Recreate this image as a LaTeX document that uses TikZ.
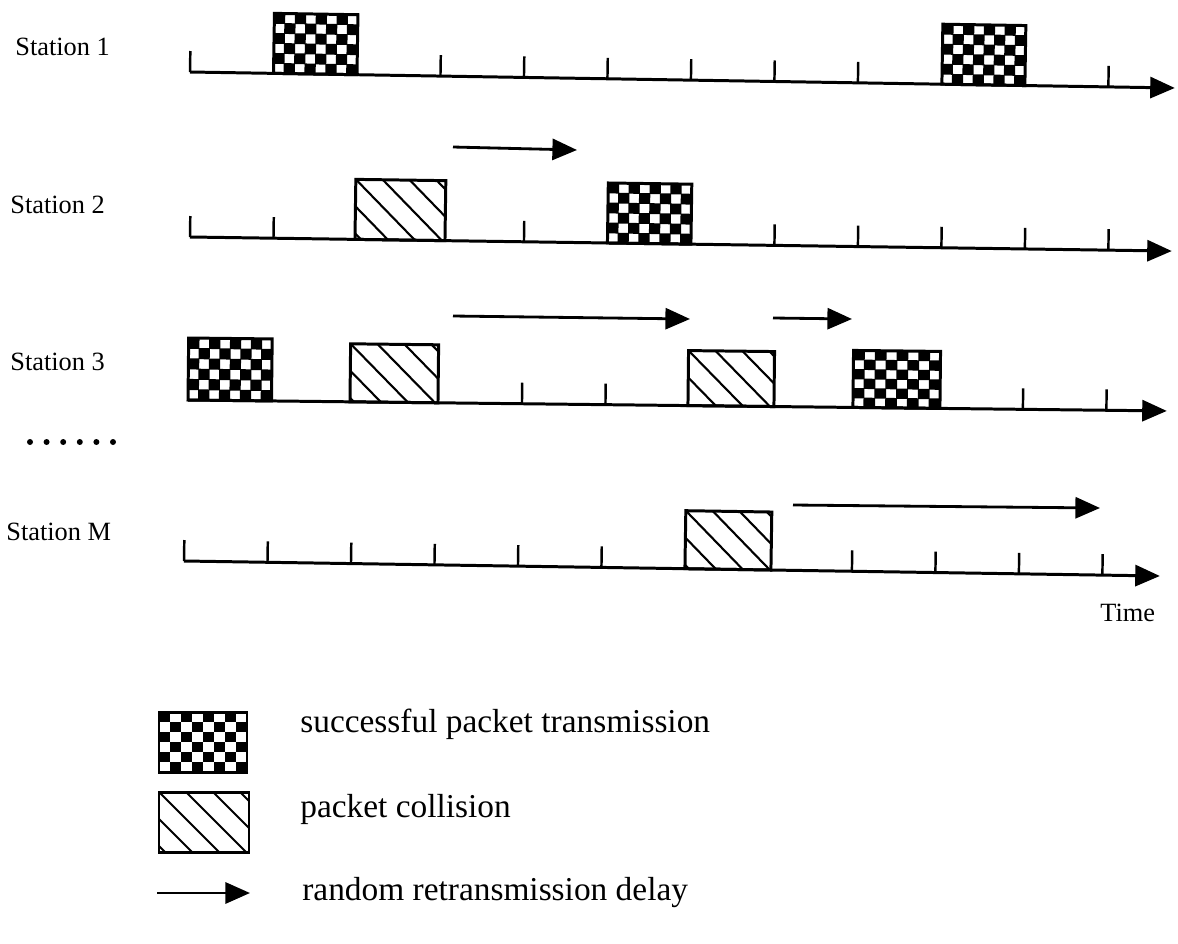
\documentclass[tikz,border=0pt]{standalone}
\usepackage{fontspec}
\setmainfont{Liberation Serif}
\usetikzlibrary{arrows.meta}
\tikzset{
  axisline/.style={line width=1.7pt, -{Triangle[length=14pt,width=12pt]}},
  tickmark/.style={line width=1.4pt},
  boxline/.style={line width=1.7pt},
  hatchline/.style={line width=1.2pt},
  delay/.style={line width=1.6pt, -{Triangle[length=14pt,width=12pt]}},
  lbl/.style={anchor=west, inner sep=0pt, font=\fontsize{15pt}{18pt}\selectfont},
  legtext/.style={anchor=west, inner sep=0pt, font=\fontsize{19pt}{23pt}\selectfont},
}
\newcommand{\ckbox}[3]{%
  \begin{scope}
    \clip (#1,-#3) rectangle (#2,0);
    \pgfmathsetmacro\cw{(#2-#1)/8}
    \pgfmathsetmacro\chh{#3/6}
    \foreach \i in {0,...,7}{\foreach \j in {0,...,5}{
      \pgfmathtruncatemacro\odd{mod(\i+\j,2)}
      \ifnum\odd=1 \fill ({#1+\i*\cw-0.4},{-\j*\chh+0.4}) rectangle ++({\cw+0.8},{-\chh-0.8}); \fi
    }}
  \end{scope}
  \draw[boxline] (#1,-#3) rectangle (#2,0);
}
\newcommand{\hatchbox}[3]{%
  \begin{scope}
    \clip (#1,-#3) rectangle (#2,0);
    \foreach \k in {-3,...,4} \draw[hatchline] ({#1+\k*27},-#3) -- ++(#3+4,#3+4);
  \end{scope}
  \draw[boxline] (#1,-#3) rectangle (#2,0);
}
\begin{document}
\begin{tikzpicture}[x=0.02cm,y=-0.02cm]
\useasboundingbox (0,0) rectangle (1178,944);

% labels
\node[lbl] (l1) at (15,47) {Station 1};
\node[lbl] (l2) at (10,205) {Station 2};
\node[lbl] (l3) at (10,362) {Station 3};
\node[lbl] (lm) at (6,532) {Station M};
\node[lbl] (time) at (1100,613) {Time};

% Station 1
\begin{scope}[shift={(190,72)}, rotate=-0.93]
  \coordinate (s1a) at (0,0); \coordinate (s1b) at (985,0);
  \draw[axisline] (s1a) -- (s1b);
  \foreach \n in {0,3,4,5,6,7,8,11} \draw[tickmark] (\n*83.5,0) -- ++(0,-21);
  \ckbox{83.5}{167}{60}
  \ckbox{752}{835}{60}
\end{scope}

% Station 2
\begin{scope}[shift={(190,237)}, rotate=-0.82]
  \coordinate (s2a) at (0,0); \coordinate (s2b) at (982,0);
  \draw[axisline] (s2a) -- (s2b);
  \foreach \n in {0,1,4,7,8,9,10,11} \draw[tickmark] (\n*83.5,0) -- ++(0,-21);
  \hatchbox{165}{255}{60}
  \ckbox{417.5}{501}{60}
\end{scope}

% Station 3
\begin{scope}[shift={(188,400)}, rotate=-0.64]
  \coordinate (s3a) at (0,0); \coordinate (s3b) at (979,0);
  \draw[axisline] (s3a) -- (s3b);
  \foreach \n in {4,5,10,11} \draw[tickmark] (\n*83.5,0) -- ++(0,-21);
  \ckbox{0}{83.5}{62}
  \hatchbox{162}{250}{58}
  \hatchbox{500}{586}{55}
  \ckbox{665}{752}{57}
\end{scope}

% Station M
\begin{scope}[shift={(184,561)}, rotate=-0.88]
  \coordinate (sma) at (0,0); \coordinate (smb) at (976,0);
  \draw[axisline] (sma) -- (smb);
  \foreach \n in {0,1,2,3,4,5,8,9,10,11} \draw[tickmark] (\n*83.5,0) -- ++(0,-21);
  \hatchbox{501}{587}{58}
\end{scope}

% retransmission delays
\coordinate (d1a) at (453,147); \coordinate (d1b) at (577,150);
\draw[delay] (d1a) -- (d1b);
\coordinate (d2a) at (453,316); \coordinate (d2b) at (690,319);
\draw[delay] (d2a) -- (d2b);
\coordinate (d3a) at (773,318); \coordinate (d3b) at (852,319);
\draw[delay] (d3a) -- (d3b);
\coordinate (d4a) at (793,505); \coordinate (d4b) at (1100,508);
\draw[delay] (d4a) -- (d4b);

% dots
\foreach \k in {0,...,5} \fill (30+\k*16.6,442) circle (3);

% legend
\begin{scope}[shift={(159,772)}]
  \ckbox{0}{88}{60}
\end{scope}
\node[legtext] (t1) at (300,724) {successful packet transmission};
\begin{scope}[shift={(159,852)}]
  \hatchbox{0}{90}{60}
\end{scope}
\node[legtext] (t2) at (300,809) {packet collision};
\coordinate (la) at (157,893); \coordinate (lb) at (250,893);
\draw[delay] (la) -- (lb);
\node[legtext] (t3) at (302,893) {random retransmission delay};
\end{tikzpicture}
\end{document}
